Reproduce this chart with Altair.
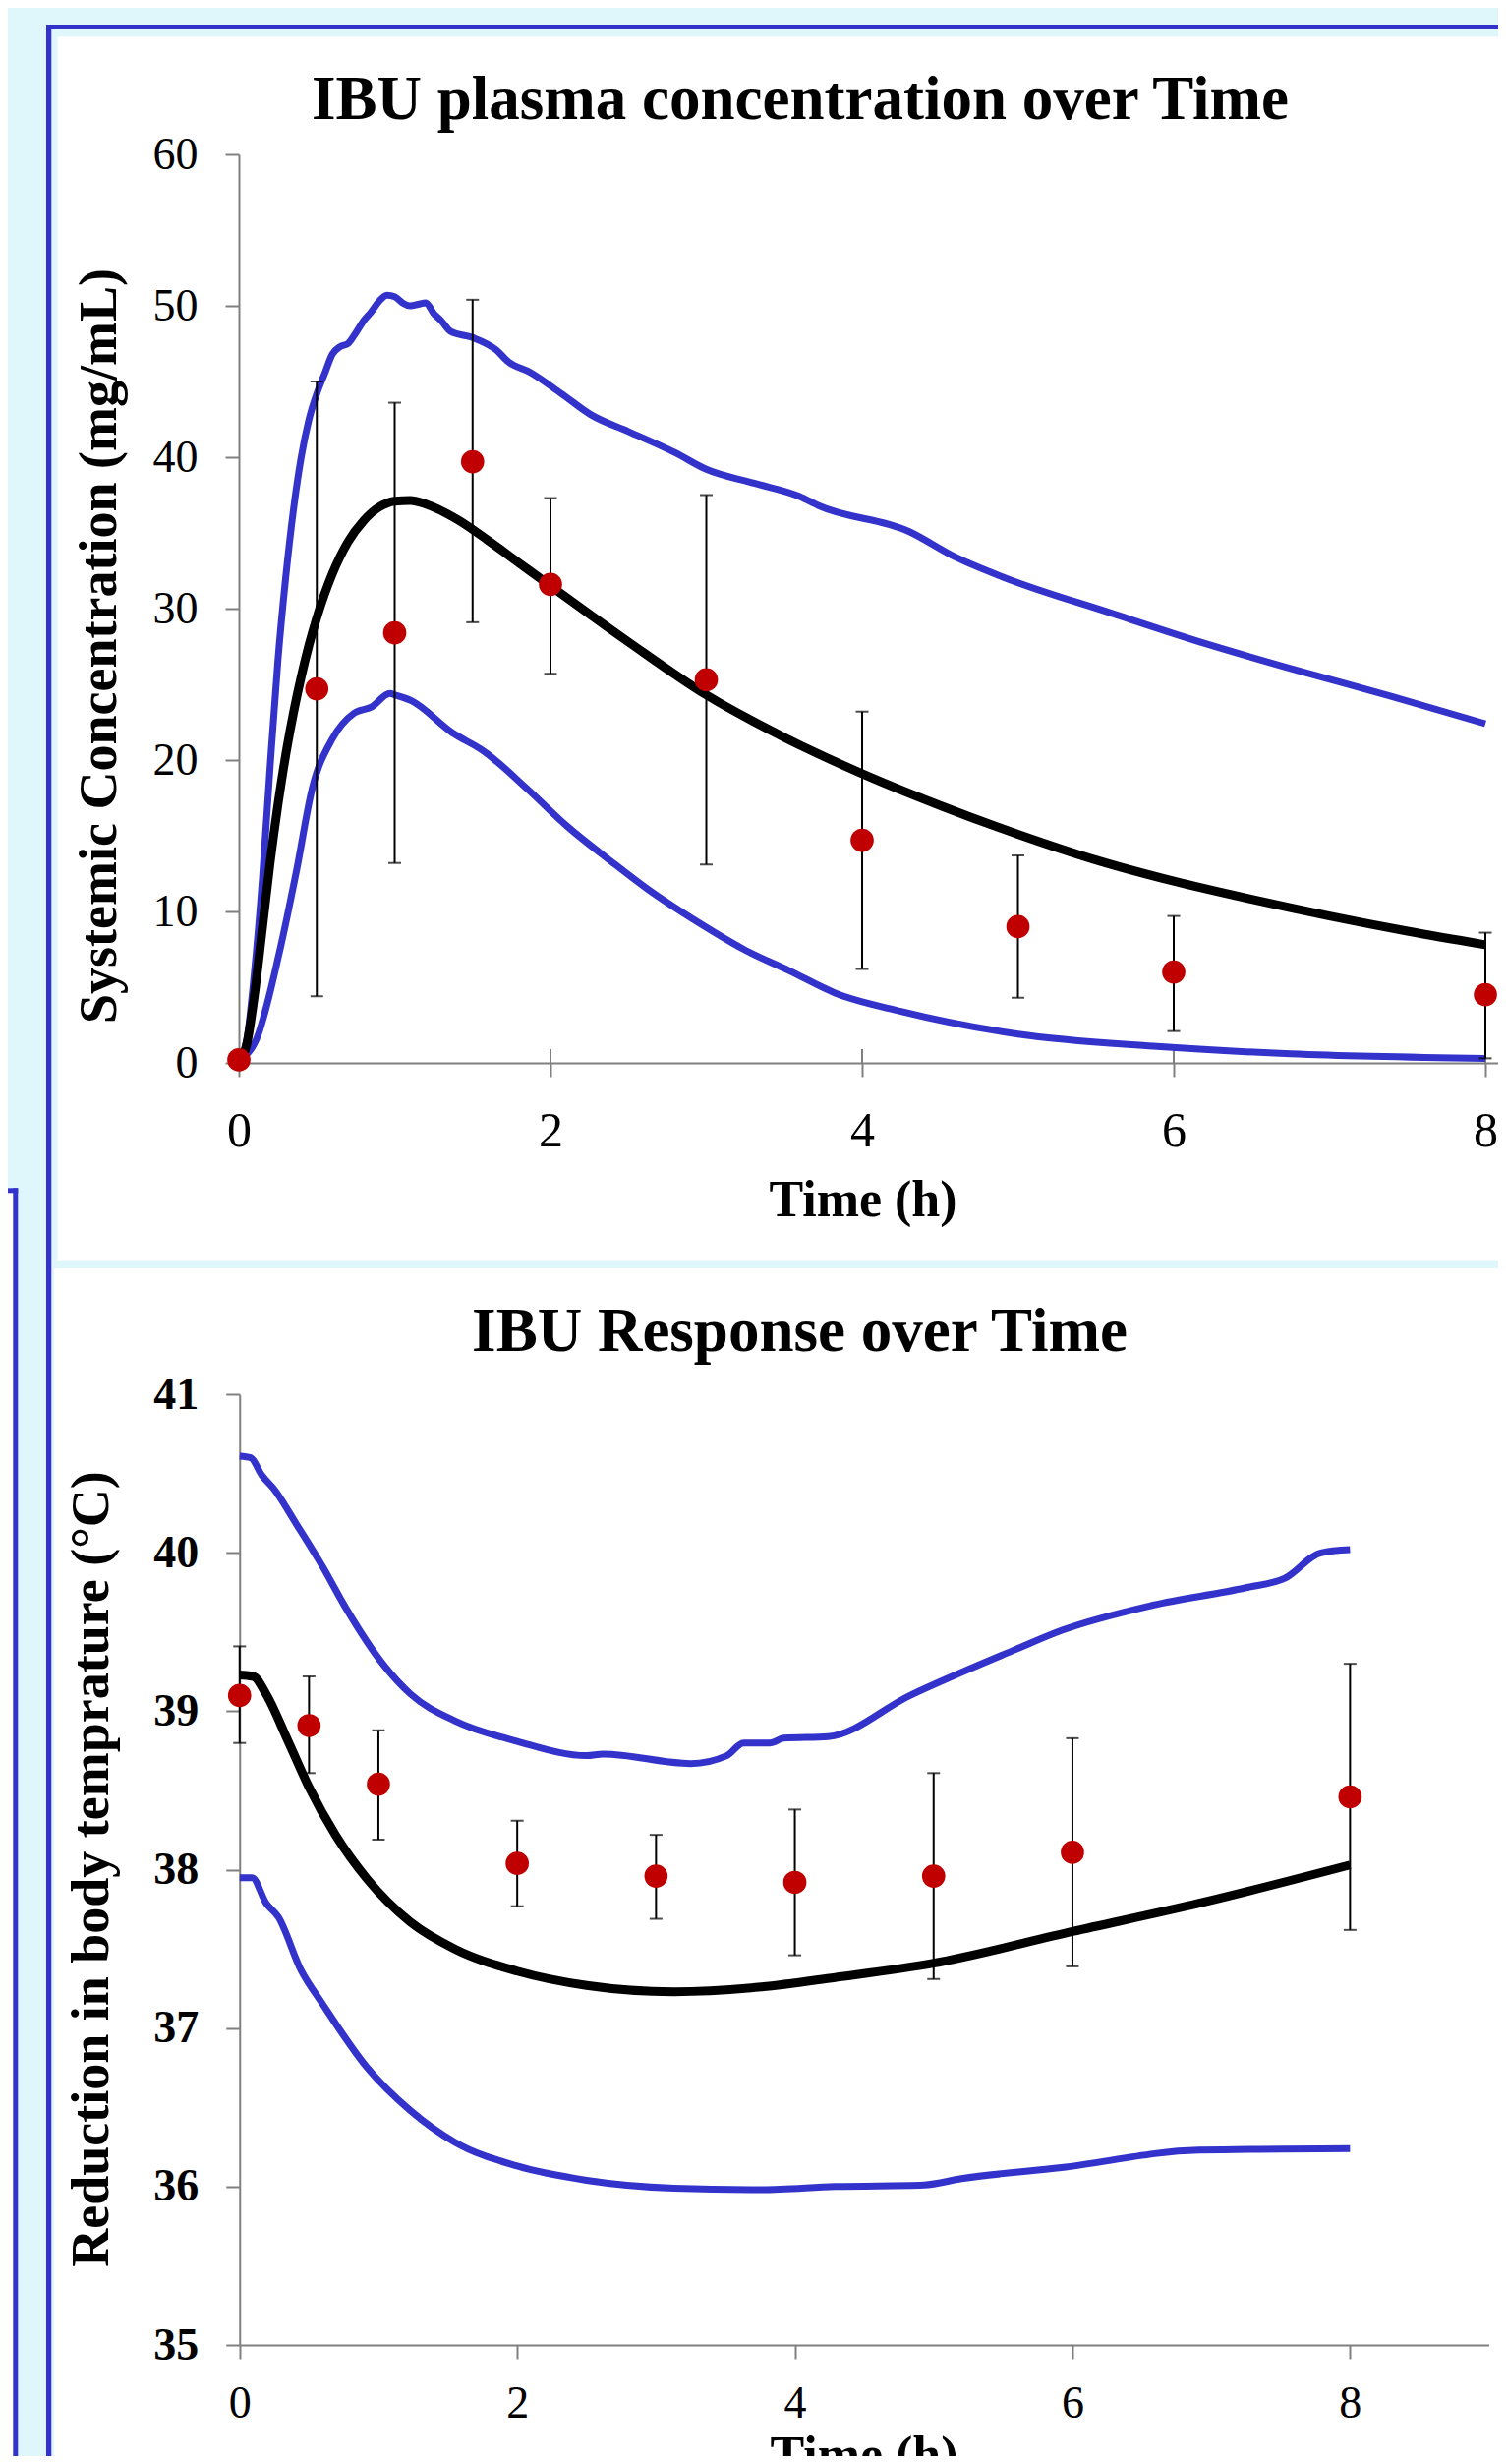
import altair as alt
import pandas as pd

# ---------------- text ----------------
TITLE_TOP = "IBU plasma concentration over Time"
TITLE_BOTTOM = "IBU Response over Time"
YTITLE_TOP = "Systemic Concentration (mg/mL)"
YTITLE_BOTTOM = "Reduction in body temprature (°C)"
XTITLE = "Time (h)"

# ---------------- tick values ----------------
top_x_ticks = [0, 2, 4, 6, 8]
top_y_ticks = [0, 10, 20, 30, 40, 50, 60]
bot_x_ticks = [0, 2, 4, 6, 8]
bot_y_ticks = [35, 36, 37, 38, 39, 40, 41]

# ---------------- top panel: observed plasma concentration ----------------
conc_t = [0, 0.5, 1, 1.5, 2, 3, 4, 5, 6, 8]
conc_mean = [0.2, 24.7, 28.4, 39.7, 31.6, 25.3, 14.7, 9.0, 6.0, 4.5]
conc_hi = [0.2, 45.0, 43.6, 50.4, 37.3, 37.5, 23.2, 13.7, 9.7, 8.6]
conc_lo = [0.2, 4.4, 13.2, 29.1, 25.7, 13.1, 6.2, 4.3, 2.1, 0.3]

# top panel: model mean curve
pk_mean_t = [0, 0.05, 0.1, 0.15, 0.2, 0.25, 0.3, 0.35, 0.4, 0.45, 0.5, 0.6, 0.7, 0.8, 0.9,
             1.0, 1.1, 1.2, 1.4, 1.6, 1.8, 2.0, 2.5, 3.0, 3.5, 4.0, 4.5, 5.0, 5.5, 6.0,
             6.5, 7.0, 7.5, 8.0]
pk_mean_v = [0, 1.2, 4.5, 8.8, 13.2, 17.0, 20.3, 23.1, 25.5, 27.6, 29.4, 32.3, 34.4, 35.8, 36.7,
             37.1, 37.15, 36.9, 35.9, 34.5, 33.0, 31.5, 27.8, 24.3, 21.5, 19.1, 17.0, 15.1, 13.4,
             12.0, 10.8, 9.7, 8.7, 7.8]

# top panel: upper band curve
pk_up_t = [0, 0.05, 0.1, 0.15, 0.2, 0.25, 0.3, 0.35, 0.4, 0.45, 0.5, 0.55, 0.6, 0.65, 0.7,
           0.75, 0.8, 0.85, 0.9, 0.95, 1.0, 1.05, 1.1, 1.15, 1.2, 1.25, 1.3, 1.36, 1.5,
           1.65, 1.73, 1.87, 2.07, 2.26, 2.5, 2.8, 3.0, 3.3, 3.6, 3.72, 4.3, 4.6, 4.9,
           5.6, 6.2, 6.8, 7.4, 8.0]
pk_up_v = [0.2, 1.5, 6.0, 12.0, 19.5, 26.5, 32.0, 36.5, 40.0, 42.5, 44.2, 45.5, 46.8, 47.3, 47.5,
           48.2, 49.0, 49.6, 50.3, 50.7, 50.6, 50.2, 50.0, 50.1, 50.2, 49.5, 49.0, 48.3, 47.9,
           47.1, 46.3, 45.6, 44.2, 42.8, 41.7, 40.3, 39.2, 38.3, 37.4, 36.8, 35.1, 33.4, 32.1,
           29.7, 27.7, 25.9, 24.2, 22.4]

# top panel: lower band curve
pk_lo_t = [0, 0.11, 0.26, 0.37, 0.47, 0.6, 0.74, 0.85, 0.97, 1.0, 1.11, 1.37, 1.57, 1.85,
           2.11, 2.39, 2.62, 2.96, 3.24, 3.53, 3.83, 4.25, 5.0, 5.87, 6.75, 8.0]
pk_lo_v = [0.2, 1.5, 7.3, 12.7, 18.1, 21.4, 23.1, 23.5, 24.4, 24.3, 23.9, 21.8, 20.6, 18.1,
           15.6, 13.3, 11.5, 9.2, 7.5, 6.1, 4.6, 3.4, 1.9, 1.1, 0.6, 0.3]

# ---------------- bottom panel: observed temperature ----------------
temp_t = [0, 0.5, 1, 2, 3, 4, 5, 6, 8]
temp_mean = [39.10, 38.91, 38.54, 38.04, 37.96, 37.92, 37.96, 38.11, 38.46]
temp_hi = [39.41, 39.22, 38.88, 38.31, 38.22, 38.38, 38.61, 38.83, 39.30]
temp_lo = [38.80, 38.61, 38.19, 37.77, 37.69, 37.46, 37.31, 37.39, 37.62]

# bottom panel: model mean curve
pd_mean_t = [0, 0.1, 0.19, 0.35, 0.5, 0.69, 0.92, 1.23, 1.55, 2.0, 2.5, 3.13, 3.76, 4.29,
             5.0, 6.0, 6.92, 8.0]
pd_mean_v = [39.23, 39.22, 39.11, 38.81, 38.52, 38.22, 37.94, 37.67, 37.50, 37.36, 37.27,
             37.23, 37.26, 37.32, 37.41, 37.61, 37.79, 38.03]

# bottom panel: upper band curve
pd_up_t = [0, 0.08, 0.16, 0.25, 0.41, 0.6, 0.76, 1.04, 1.23, 1.55, 2.0, 2.5, 2.62, 3.25,
           3.51, 3.63, 3.82, 3.92, 4.24, 4.83, 5.59, 5.92, 6.58, 7.25, 7.53, 7.79, 8.0]
pd_up_v = [40.61, 40.60, 40.49, 40.40, 40.18, 39.91, 39.66, 39.29, 39.11, 38.94, 38.81, 38.72,
           38.73, 38.67, 38.72, 38.80, 38.80, 38.83, 38.84, 39.10, 39.39, 39.51, 39.67, 39.78,
           39.84, 40.00, 40.02]

# bottom panel: lower band curve
pd_lo_t = [0, 0.09, 0.19, 0.28, 0.44, 0.6, 0.92, 1.23, 1.55, 2.0, 2.5, 3.13, 3.76, 4.29,
           4.93, 5.2, 5.92, 6.91, 8.0]
pd_lo_v = [37.95, 37.95, 37.79, 37.70, 37.37, 37.15, 36.75, 36.48, 36.28, 36.13, 36.04,
           35.99, 35.98, 36.00, 36.01, 36.05, 36.12, 36.23, 36.24]

# ---------------- styles / layout ----------------
W, H = 1516, 2490
FONT = "Liberation Serif"
BLUE = "#3333cc"
RED = "#c00000"
CYAN = "#dff7fb"
GREY = "#808080"
BLUE_W = 7
BLACK_W = 9
DOT = 560

top_xs = alt.Scale(domain=[0, 8.15], range=[235, 1526.8], nice=False, zero=False)
top_ys = alt.Scale(domain=[0, 60], range=[1073, 149], nice=False, zero=False)
bot_xs = alt.Scale(domain=[0, 9], range=[235.75, 1506.55], nice=False, zero=False)
bot_ys = alt.Scale(domain=[35, 41], range=[2377, 1410.2], nice=False, zero=False)

common_axis = dict(title=None, grid=False, domainColor=GREY, domainWidth=2,
                   tickColor=GREY, tickWidth=2, tickSize=14, labelFont=FONT,
                   labelColor="black", labelFlush=False, labelOverlap=False)

top_xa = alt.Axis(orient="bottom", offset=-(H - 1073), values=top_x_ticks,
                  labelFontSize=50, labelPadding=30, **common_axis)
top_ya = alt.Axis(orient="left", offset=-235, values=top_y_ticks,
                  labelFontSize=46, labelPadding=28, **common_axis)
bot_xa = alt.Axis(orient="bottom", offset=-(H - 2377), values=bot_x_ticks,
                  labelFontSize=46, labelPadding=23, **common_axis)
bot_ya = alt.Axis(orient="left", offset=-235.75, values=bot_y_ticks,
                  labelFontSize=46, labelPadding=28, labelFontWeight="bold", **common_axis)


def tx(f):
    return alt.X(f"{f}:Q", scale=top_xs, axis=top_xa)


def ty(f):
    return alt.Y(f"{f}:Q", scale=top_ys, axis=top_ya)


def bx(f):
    return alt.X(f"{f}:Q", scale=bot_xs, axis=bot_xa)


def by(f):
    return alt.Y(f"{f}:Q", scale=bot_ys, axis=bot_ya)


def curves(pairs):
    frames = []
    for name, t, v in pairs:
        frames.append(pd.DataFrame({"t": t, "v": v, "series": name}))
    return pd.concat(frames, ignore_index=True)


# ---------------- top panel ----------------
top_obs = pd.DataFrame({"t": conc_t, "mean": conc_mean, "hi": conc_hi, "lo": conc_lo})
top_band = curves([("upper", pk_up_t, pk_up_v), ("lower", pk_lo_t, pk_lo_v)])
top_mean = pd.DataFrame({"t": pk_mean_t, "v": pk_mean_v})
top_ticks_df = pd.DataFrame({"t": top_x_ticks})

top_layer = alt.layer(
    alt.Chart(top_ticks_df).mark_rule(color=GREY, strokeWidth=2).encode(
        x=tx("t"), y=alt.value(1059), y2=alt.value(1073)),
    alt.Chart(top_band).mark_line(color=BLUE, strokeWidth=BLUE_W, interpolate="monotone").encode(
        x=tx("t"), y=ty("v"), detail="series:N"),
    alt.Chart(top_mean).mark_line(color="black", strokeWidth=BLACK_W, interpolate="monotone").encode(
        x=tx("t"), y=ty("v")),
    alt.Chart(top_obs).mark_rule(color="black", strokeWidth=2).encode(
        x=tx("t"), y=ty("lo"), y2="hi:Q"),
    alt.Chart(top_obs).mark_tick(color="black", orient="horizontal", size=13, thickness=2).encode(
        x=tx("t"), y=ty("hi")),
    alt.Chart(top_obs).mark_tick(color="black", orient="horizontal", size=13, thickness=2).encode(
        x=tx("t"), y=ty("lo")),
    alt.Chart(top_obs).mark_circle(color=RED, size=DOT, opacity=1).encode(
        x=tx("t"), y=ty("mean")),
)

# ---------------- bottom panel ----------------
bot_obs = pd.DataFrame({"t": temp_t, "mean": temp_mean, "hi": temp_hi, "lo": temp_lo})
bot_band = curves([("upper", pd_up_t, pd_up_v), ("lower", pd_lo_t, pd_lo_v)])
bot_mean = pd.DataFrame({"t": pd_mean_t, "v": pd_mean_v})

bot_layer = alt.layer(
    alt.Chart(bot_band).mark_line(color=BLUE, strokeWidth=BLUE_W, interpolate="monotone").encode(
        x=bx("t"), y=by("v"), detail="series:N"),
    alt.Chart(bot_mean).mark_line(color="black", strokeWidth=BLACK_W, interpolate="monotone").encode(
        x=bx("t"), y=by("v")),
    alt.Chart(bot_obs).mark_rule(color="black", strokeWidth=2).encode(
        x=bx("t"), y=by("lo"), y2="hi:Q"),
    alt.Chart(bot_obs).mark_tick(color="black", orient="horizontal", size=13, thickness=2).encode(
        x=bx("t"), y=by("hi")),
    alt.Chart(bot_obs).mark_tick(color="black", orient="horizontal", size=13, thickness=2).encode(
        x=bx("t"), y=by("lo")),
    alt.Chart(bot_obs).mark_circle(color=RED, size=DOT, opacity=1).encode(
        x=bx("t"), y=by("mean")),
)

# ---------------- page decoration (poster frame) ----------------
one = pd.DataFrame({"d": [0]})
frame_rects = [
    (0, 0, W, 17, CYAN),
    (0, 0, 39, H, CYAN),
    (44.3, 22, W, 29.3, CYAN),
    (44.3, 22, 50.5, 1273.7, CYAN),
    (44.3, 1273.7, W, 1282, CYAN),
    (44.3, 1282, 47, H, CYAN),
    (0, 1205.3, 5.3, H, "white"),
    (39, 17, W, 22, BLUE),
    (39, 17, 44.3, H, BLUE),
    (5.3, 1200.3, 10.3, H, BLUE),
    (0, 1200.3, 10.3, 1205.3, BLUE),
]
deco = [
    alt.Chart(one).mark_rect(color=c, strokeWidth=0).encode(
        x=alt.value(x1), x2=alt.value(x2), y=alt.value(y1), y2=alt.value(y2))
    for (x1, y1, x2, y2, c) in frame_rects
]


def text_layer(txt, x, y, size, angle=0, weight="bold", baseline="alphabetic"):
    return alt.Chart(pd.DataFrame({"label": [txt]})).mark_text(
        font=FONT, fontSize=size, fontWeight=weight, color="black",
        align="center", baseline=baseline, angle=angle).encode(
        x=alt.value(x), y=alt.value(y), text="label:N")


texts = [
    text_layer(TITLE_TOP, 806, 113, 63),
    text_layer(TITLE_BOTTOM, 805.5, 1366, 63),
    text_layer(YTITLE_TOP, 94, 649, 54, angle=270, baseline="middle"),
    text_layer(YTITLE_BOTTOM, 86, 1893, 54, angle=270, baseline="middle"),
    text_layer(XTITLE, 870, 1229, 52),
    text_layer(XTITLE, 871, 2506, 52),
]

chart = alt.layer(*deco, top_layer, bot_layer, *texts).resolve_scale(
    x="independent", y="independent").resolve_axis(
    x="independent", y="independent").properties(
    width=W, height=H, padding=0,
    autosize=alt.AutoSizeParams(type="none"),
).configure(background="white").configure_view(stroke=None)

chart.save("out.html", embed_options={"renderer": "svg", "actions": False})
